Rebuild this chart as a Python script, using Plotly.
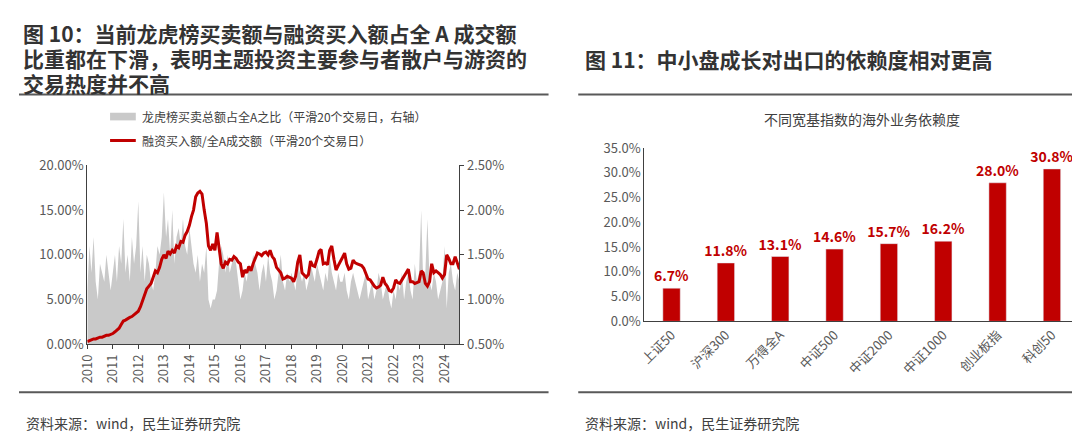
import pandas as pd
import plotly.graph_objects as go

# Left chart data (monthly, 2010-01 .. 2024-08)
margin_ratio = [
 0.3,0.4,0.5,0.6,0.6,0.7,0.8,0.8,0.9,1.0,1.0,1.1,
 1.2,1.4,1.6,1.8,2.2,2.6,2.7,2.9,3.0,3.1,3.3,3.4,
 3.7,4.2,4.8,5.6,6.2,6.5,6.8,7.5,8.2,8.0,8.6,9.5,
 10.0,9.6,10.4,10.1,10.5,10.2,11.0,10.8,11.5,11.4,12.2,12.6,
 13.3,14.3,15.0,16.5,16.9,17.1,16.8,15.0,13.5,11.0,10.5,11.2,
 10.5,12.5,11.0,9.0,8.5,9.2,9.0,9.5,9.4,9.8,9.6,9.2,
 9.0,7.5,8.3,8.0,8.7,8.2,9.0,9.7,10.2,10.1,9.9,10.2,
 10.3,10.0,10.5,9.8,9.5,8.6,8.3,8.0,7.3,7.4,7.6,7.5,
 7.4,7.0,7.6,9.2,10.0,8.0,7.8,7.5,7.8,9.3,8.8,8.7,
 9.5,10.4,10.6,9.0,9.1,8.9,10.5,11.0,9.5,8.3,8.8,9.2,
 9.7,10.2,9.0,8.4,8.5,9.4,9.1,9.0,8.9,8.8,8.5,7.8,
 7.3,7.2,6.8,6.5,6.3,6.4,6.6,7.5,6.8,6.5,6.0,5.9,
 6.3,7.2,6.9,6.8,7.2,7.7,8.0,8.4,7.0,7.0,6.8,6.9,
 7.0,8.2,8.0,6.8,6.5,7.0,9.0,8.0,8.2,8.0,7.8,7.4,
 7.8,10.0,9.6,9.0,9.0,9.8,9.2,8.4,
]
lhb_ratio = [
 1.1,1.6,1.3,1.7,1.2,1.0,1.4,1.3,1.2,1.5,1.3,1.1,
 1.3,1.5,1.2,1.6,1.4,1.9,1.3,1.5,1.2,1.7,1.4,1.6,
 2.1,1.3,1.6,1.2,1.5,1.4,1.2,1.1,1.3,1.6,1.5,1.7,
 2.2,1.7,1.9,1.5,2.0,1.4,1.7,1.8,1.6,1.9,1.6,1.5,
 1.8,1.6,1.4,1.3,1.5,1.2,1.4,1.3,1.6,1.0,0.9,1.0,
 1.0,1.1,1.4,1.6,1.5,1.3,1.5,1.3,1.4,1.5,1.4,1.2,
 1.0,1.1,1.3,1.2,1.4,1.3,1.5,1.4,1.3,1.1,1.3,1.4,
 1.2,1.5,1.3,1.2,1.0,1.1,1.3,1.5,1.2,1.1,1.3,1.2,
 1.3,1.2,1.1,1.4,1.3,1.2,1.3,1.1,1.2,1.4,1.3,1.2,
 1.4,1.3,1.2,1.1,1.3,1.2,1.5,1.3,1.2,1.1,1.3,1.2,
 1.2,1.3,1.1,1.0,1.2,1.3,1.2,1.1,1.0,1.1,1.2,1.3,
 1.0,1.1,1.2,1.0,1.1,1.3,1.2,1.0,1.1,1.2,1.0,0.9,
 1.1,1.0,1.2,1.1,1.3,1.0,1.2,1.3,1.1,1.0,1.4,1.2,
 1.3,2.0,1.2,1.3,1.9,1.2,1.1,1.3,1.2,1.0,1.1,1.2,
 1.6,0.9,1.3,1.4,1.2,1.1,1.3,1.2,
]
years = list(range(2010, 2025))

# Right chart data
indices = ["上证50", "沪深300", "万得全A", "中证500", "中证2000", "中证1000", "创业板指", "科创50"]
dependence = [6.7, 11.8, 13.1, 14.6, 15.7, 16.2, 28.0, 30.8]

dates = pd.date_range("2010-01-01", periods=len(margin_ratio), freq="MS")
FONT = "Noto Sans CJK SC"
RED = "#c00000"
AX = "#404040"

fig = go.Figure()
fig.add_trace(go.Scatter(x=dates, y=lhb_ratio, mode="lines", fill="tozeroy",
                         line=dict(width=0, color="#c9c9c9"), fillcolor="#c9c9c9",
                         xaxis="x", yaxis="y", showlegend=False))
fig.add_trace(go.Scatter(x=dates, y=margin_ratio, mode="lines",
                         line=dict(width=3, color=RED),
                         xaxis="x", yaxis="y2", showlegend=False))
fig.add_trace(go.Bar(x=indices, y=dependence, marker_color=RED,
                     text=[f"<b>{v:.1f}%</b>" for v in dependence], textposition="outside",
                     constraintext="none",
                     textfont=dict(color=RED, size=14, family=FONT), cliponaxis=False,
                     xaxis="x3", yaxis="y3", showlegend=False))

tickfont = dict(size=13, color="#595959", family=FONT)
fig.update_layout(
    width=1080, height=441, margin=dict(l=0, r=0, t=0, b=0),
    paper_bgcolor="white", plot_bgcolor="white", font=dict(family=FONT),
    xaxis=dict(domain=[0.0639, 0.412], range=[pd.Timestamp("2010-01-01"), pd.Timestamp("2024-08-01")],
               tickvals=[pd.Timestamp(f"{y}-01-01") for y in years], ticktext=[str(y) for y in years],
               tickangle=-90, tickfont=tickfont, showgrid=False, showline=True, linecolor=AX,
               ticks="outside", ticklen=4, tickcolor=AX, anchor="y"),
    yaxis=dict(domain=[0.2268, 0.6508], range=[0.5, 2.5], side="right", anchor="x",
               tickvals=[0.5, 1.0, 1.5, 2.0, 2.5], ticktext=["0.50%", "1.00%", "1.50%", "2.00%", "2.50%"],
               tickfont=tickfont, showgrid=False, showline=True, linecolor=AX, ticks="outside",
               ticklen=4, tickcolor=AX, zeroline=False),
    yaxis2=dict(overlaying="y", range=[0, 20], side="left", anchor="x",
                tickvals=[0, 5, 10, 15, 20], ticktext=["0.00%", "5.00%", "10.00%", "15.00%", "20.00%"],
                tickfont=tickfont, showgrid=False, showline=True, linecolor=AX, zeroline=False),
    xaxis3=dict(domain=[0.585, 0.9917], anchor="y3", tickangle=-45, tickfont=tickfont,
                showline=True, linecolor=AX, showgrid=False),
    yaxis3=dict(domain=[0.2812, 0.6916], anchor="x3", range=[0, 35],
                tickvals=[0, 5, 10, 15, 20, 25, 30, 35], ticktext=[f"{v:.1f}%" for v in range(0, 40, 5)],
                tickfont=tickfont, showline=True, linecolor=AX, showgrid=False, zeroline=False),
    bargap=0.68,
)

def ann(x, y, text, size=14, color="#333", bold=False, xanchor="left", yanchor="middle"):
    fig.add_annotation(x=x, y=y, xref="paper", yref="paper", xanchor=xanchor, yanchor=yanchor,
                       text=f"<b>{text}</b>" if bold else text, showarrow=False,
                       font=dict(size=size, color=color, family=FONT))

def py(p):
    return 1 - p / 441

for i, t in enumerate(["图 10：当前龙虎榜买卖额与融资买入额占全 A 成交额",
                       "比重都在下滑，表明主题投资主要参与者散户与游资的",
                       "交易热度并不高"]):
    ann(0.002, py(16 + i * 26), t, size=21, bold=True)
ann(570 / 1080, py(43), "图 11：中小盘成长对出口的依赖度相对更高", size=21, bold=True)
ann(5 / 1080, py(423), "资料来源：wind，民生证券研究院", size=14, color="#404040")
ann(570 / 1080, py(423), "资料来源：wind，民生证券研究院", size=14, color="#404040")
ann(122 / 1080, py(103), "龙虎榜买卖总额占全A之比（平滑20个交易日，右轴）", size=12, color="#404040")
ann(122 / 1080, py(128), "融资买入额/全A成交额（平滑20个交易日）", size=12, color="#404040")
ann(0.7885, py(106), "不同宽基指数的海外业务依赖度", size=14, color="#404040", xanchor="center")

shapes = [
    dict(type="line", x0=0, x1=535 / 1080, y0=py(80), y1=py(80), line=dict(color="#595959", width=2)),
    dict(type="line", x0=565 / 1080, x1=1, y0=py(80), y1=py(80), line=dict(color="#595959", width=2)),
    dict(type="line", x0=0, x1=535 / 1080, y0=py(391), y1=py(391), line=dict(color="#595959", width=2)),
    dict(type="line", x0=565 / 1080, x1=1, y0=py(391), y1=py(391), line=dict(color="#595959", width=2)),
    dict(type="rect", x0=92 / 1080, x1=118 / 1080, y0=py(99), y1=py(107), fillcolor="#c9c9c9", line=dict(width=0)),
    dict(type="line", x0=92 / 1080, x1=118 / 1080, y0=py(128), y1=py(128), line=dict(color=RED, width=3)),
]
for s in shapes:
    s.update(xref="paper", yref="paper")
fig.update_layout(shapes=shapes)

fig.write_html("out.html")
